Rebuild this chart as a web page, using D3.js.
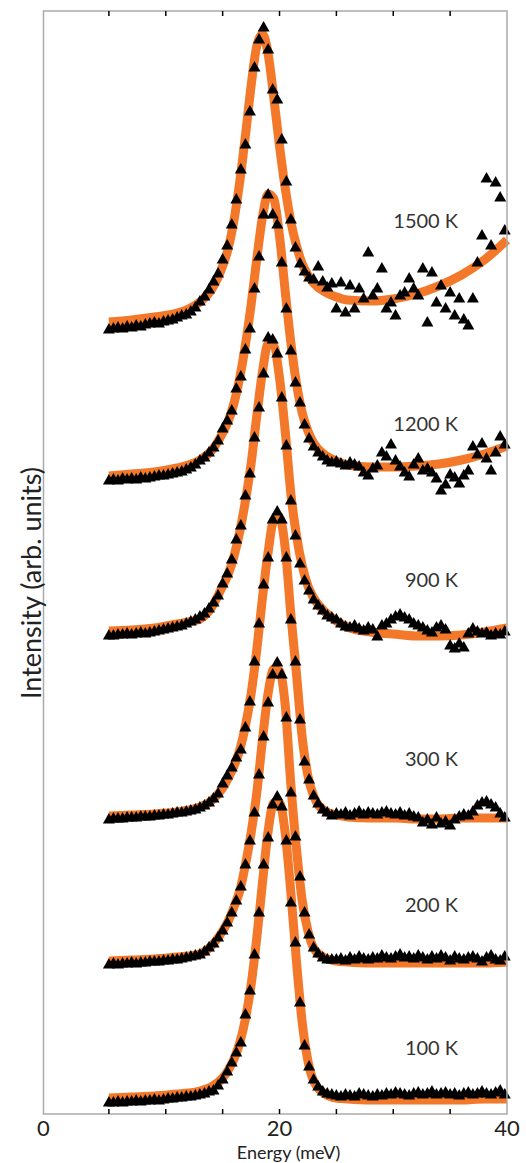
<!DOCTYPE html>
<html>
<head>
<meta charset="utf-8">
<script src="https://cdn.jsdelivr.net/npm/d3@7"></script>
<style>
  body { margin: 0; background: #fff; }
  text { font-family: Lato, "Open Sans", sans-serif; }
</style>
</head>
<body>
<svg width="526" height="1163"></svg>
<script>
// energy grid of the measured points (meV)
var energy = [5,5.4,5.8,6.2,6.6,7,7.4,7.8,8.2,8.6,9,9.4,9.8,10.2,10.6,11,11.4,11.8,12.2,12.6,
  13,13.4,13.8,14.2,14.6,15,15.4,15.8,16.2,16.6,17,17.4,17.8,18.2,18.6,19,19.4,19.8,20.2,20.6,
  21,21.4,21.8,22.2,22.6,23,23.4,23.8,24.2,24.6,25,25.4,25.8,26.2,26.6,27,27.4,27.8,28.2,28.6,
  29,29.4,29.8,30.2,30.6,31,31.4,31.8,32.2,32.6,33,33.4,33.8,34.2,34.6,35,35.4,35.8,36.2,36.6,
  37,37.4,37.8,38.2,38.6,39,39.4,39.8];

// energy grid of the fitted curves
var fitEnergy = [5,7,9,11,12,13,14,15,15.5,16,16.5,17,17.5,18,18.5,19,19.5,20,20.5,21,21.5,22,22.5,23,24,25,26,28,30,32,34,36,38,40];

var temps = ["100 K", "200 K", "300 K", "900 K", "1200 K", "1500 K"];
var offsets = [11, 149, 294, 478, 633, 784];   // vertical shift of each spectrum
var labelLevel = [59, 202, 348, 527, 683, 886];

var int100 = [0,0,1,0,1,1,2,1,2,2, 3,2,3,4,4,5,5,6,6,7, 8,9,11,12,17,23,31,40,50,60,
  88,112,148,190,238,265,298,306,296,262, 200,160,100,57,36,23,16,11,9,8,
  7,6,8,7,6,9,8,7,6,8, 7,9,8,10,9,8,7,9,10,8, 9,11,8,9,10,8,9,7,9,10, 8,9,11,9,8,10,12,8];
var int200 = [0,1,0,1,1,2,1,2,2,3, 3,3,4,4,5,5,6,7,8,9, 10,13,17,21,27,34,42,52,64,78,
  100,124,152,190,228,262,290,302,290,247, 172,128,88,52,30,17,11,7,5,5,
  5,6,4,7,5,8,6,5,7,6, 9,7,6,8,10,7,8,6,9,7, 5,8,6,9,7,4,8,6,5,7, 8,6,3,7,9,5,4,8];
var int300 = [0,1,1,1,2,2,2,3,3,3, 4,4,5,5,6,7,7,8,9,10, 12,14,17,21,26,36,44,52,62,70,
  92,118,158,196,235,262,300,308,300,262, 200,158,100,58,40,24,16,10,7,4,
  6,5,7,4,6,8,5,7,6,5, 7,8,6,5,7,4,6,3,2,-3, 0,-5,2,-4,-2,-6,0,3,5,4, 8,14,17,18,15,12,6,2];
var int900 = [0,0,1,1,2,1,2,3,2,3, 4,5,6,7,8,9,10,12,14,16, 19,22,27,33,40,52,62,76,96,110,
  140,162,198,228,262,298,296,282,238,190, 135,100,72,55,45,36,30,25,20,18,
  16,12,9,8,10,7,5,8,6,-1, 10,12,16,19,21,18,16,12,10,8, 5,3,8,10,6,-10,-13,-8,-12,2, 7,4,2,3,0,2,1,4];
var int1200 = [0,1,0,2,1,2,1,3,2,3, 4,5,5,6,7,8,9,11,13,16, 20,23,28,33,40,52,60,70,92,104,
  131,152,192,224,266,286,266,256,218,172, 130,98,78,56,42,34,28,24,20,18,
  19,17,15,18,16,14,8,5,12,15, 28,24,36,20,14,8,4,16,22,10, 12,8,2,-10,-4,6,3,-3,5,10, 34,26,37,22,10,28,44,36];
var int1500 = [0,1,2,1,3,2,4,3,5,6, 7,6,8,9,10,12,14,15,18,22, 28,33,40,48,56,70,84,105,130,160,
  185,218,262,290,302,280,240,230,190,148, 110,82,66,58,52,50,63,48,42,46,
  21,47,17,44,21,41,31,77,34,41, 61,21,27,14,34,37,51,41,34,61, 7,57,27,44,21,37,14,31,10,4, 31,67,94,151,84,147,132,99];

var fit100 = [5,6,7,9,10,12,16,25,33,44,60,84,118,165,220,272,300,300,270,210,140,80,42,22,9,5,4,3,3,3,3,3,4,4];
var fit200 = [4,5,6,8,9,11,19,34,44,58,74,100,132,172,225,272,296,294,260,180,115,64,34,17,7,4,3,2,2,2,2,2,2,3];
var fit300 = [4,5,6,8,10,13,19,32,42,54,70,94,126,170,222,268,300,302,272,205,145,82,44,24,9,5,3,2,2,1,1,2,2,2];
var fit900 = [5,6,8,12,14,17,28,50,62,80,104,135,172,220,264,292,290,258,205,142,100,70,50,38,24,15,9,4,2,0,0,1,4,8];
var fit1200 = [5,7,9,13,16,21,30,48,60,78,103,136,176,222,264,287,282,245,190,138,97,68,50,38,26,20,16,14,14,15,17,21,27,35];
var fit1500 = [8,10,13,17,21,28,40,64,82,110,148,194,244,284,296,276,232,184,142,108,84,66,55,47,38,33,30,29,31,36,44,55,70,90];

var xTicks = [5,10,15,20,25,30,35];
var xLabels = [0,20,40];

var intensities = [int100, int200, int300, int900, int1200, int1500];
var fits = [fit100, fit200, fit300, fit900, fit1200, fit1500];

var svg = d3.select("svg");

var x = d3.scaleLinear().domain([-0.75, 40]).range([43.5, 507]);
var y = d3.scaleLinear().domain([0, 1103]).range([1114, 11]);

var orange = "#f3782a";

// fitted curves under the points
var line = d3.line()
  .x(function(d){ return x(d[0]) })
  .y(function(d){ return y(d[1]) })
  .curve(d3.curveMonotoneX);

svg.append("g").selectAll("path")
  .data(fits)
  .enter()
  .append("path")
  .attr("d", function(f, i){
    return line(f.map(function(v, k){ return [fitEnergy[k], v + offsets[i]] }));
  })
  .attr("fill", "none")
  .attr("stroke", orange)
  .attr("stroke-width", 9)
  .attr("stroke-linecap", "butt");

// measured points as black triangles
var tri = d3.symbol().type(d3.symbolTriangle).size(62);

svg.append("g").selectAll("g")
  .data(intensities)
  .enter()
  .append("g")
  .each(function(s, i){
    d3.select(this).selectAll("path")
      .data(s)
      .enter()
      .append("path")
      .attr("d", tri)
      .attr("transform", function(v, k){ return "translate(" + x(energy[k]) + "," + y(v + offsets[i]) + ")" })
      .attr("fill", "#000");
  });

// temperature labels
svg.append("g").selectAll("text")
  .data(temps)
  .enter()
  .append("text")
  .attr("x", x(35.7))
  .attr("y", function(d, i){ return y(labelLevel[i]) })
  .attr("text-anchor", "end")
  .attr("font-size", 20)
  .attr("fill", "#333")
  .text(function(d){ return d });

// frame
svg.append("rect")
  .attr("x", x.range()[0])
  .attr("y", y.range()[1])
  .attr("width", x.range()[1] - x.range()[0])
  .attr("height", y.range()[0] - y.range()[1])
  .attr("fill", "none")
  .attr("stroke", "#aaa")
  .attr("stroke-width", 1.5);

// inward ticks on top and bottom
var tickG = svg.append("g");
tickG.selectAll("line.b").data(xTicks).enter().append("line")
  .attr("class", "b")
  .attr("x1", function(d){ return x(d) }).attr("x2", function(d){ return x(d) })
  .attr("y1", y.range()[0]).attr("y2", y.range()[0] - 5)
  .attr("stroke", "#000").attr("stroke-width", 1.5);
tickG.selectAll("line.t").data(xTicks).enter().append("line")
  .attr("class", "t")
  .attr("x1", function(d){ return x(d) }).attr("x2", function(d){ return x(d) })
  .attr("y1", y.range()[1]).attr("y2", y.range()[1] + 5)
  .attr("stroke", "#000").attr("stroke-width", 1.5);

svg.append("g").selectAll("text")
  .data(xLabels)
  .enter()
  .append("text")
  .attr("x", function(d){ return d === 0 ? x.range()[0] : x(d) })
  .attr("y", 1136)
  .attr("text-anchor", "middle")
  .attr("font-size", 22)
  .attr("fill", "#222")
  .text(function(d){ return d });

svg.append("text")
  .attr("x", x(20.8))
  .attr("y", 1159)
  .attr("text-anchor", "middle")
  .attr("font-size", 18)
  .attr("fill", "#222")
  .text("Energy (meV)");

svg.append("text")
  .attr("transform", "translate(41,583) rotate(-90)")
  .attr("text-anchor", "middle")
  .attr("font-size", 27)
  .attr("fill", "#222")
  .text("Intensity (arb. units)");
</script>
</body>
</html>
